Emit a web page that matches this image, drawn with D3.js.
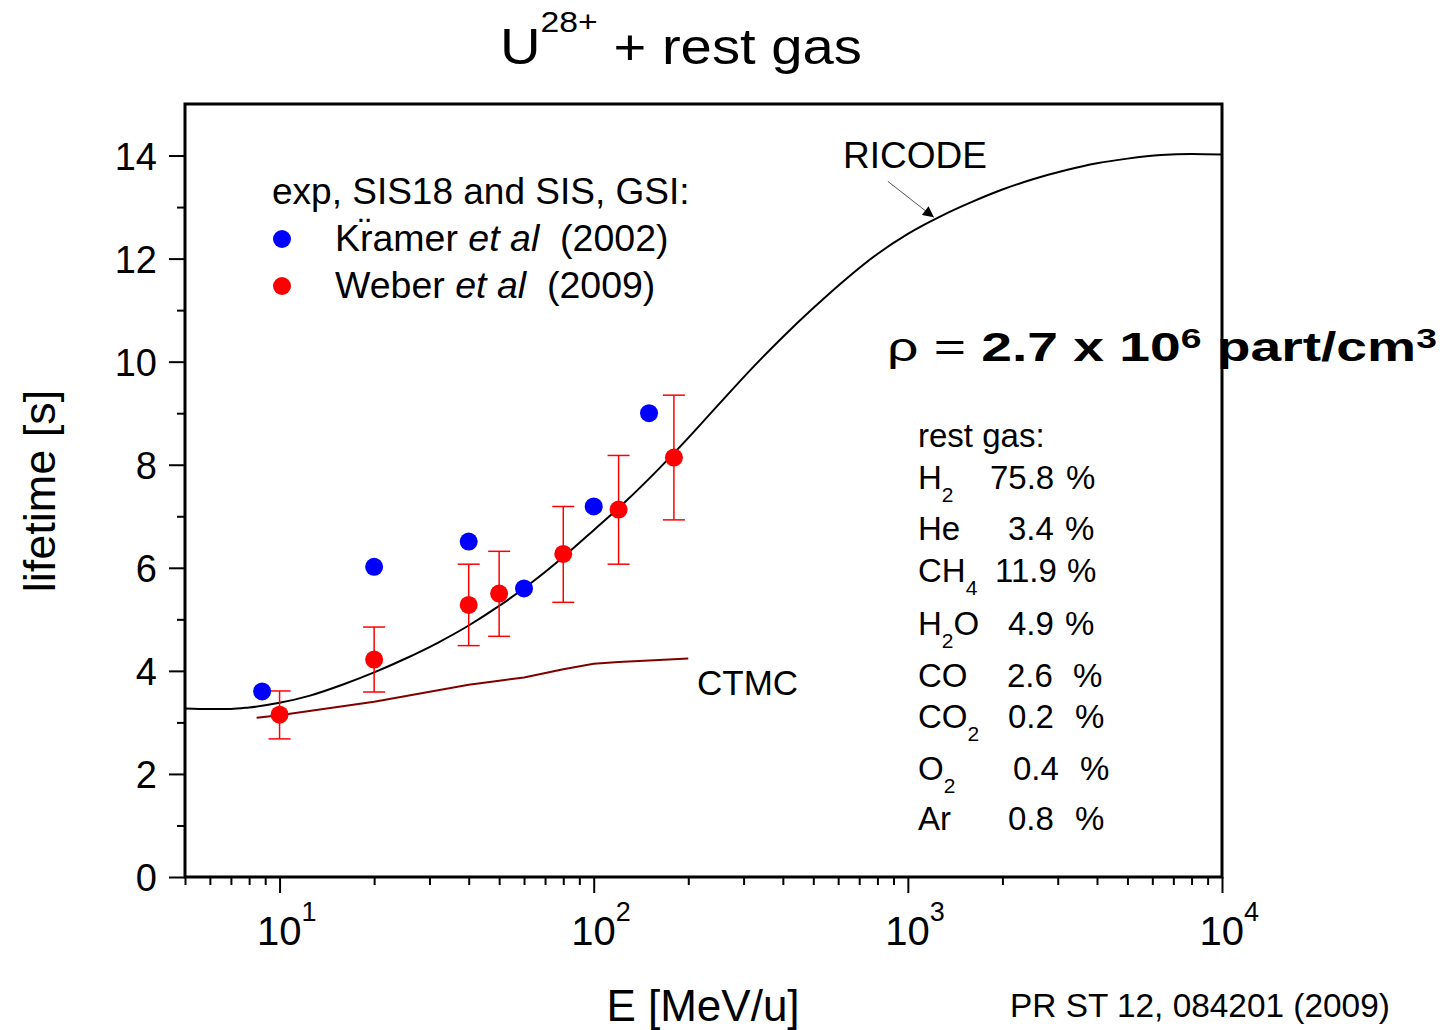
<!DOCTYPE html>
<html><head><meta charset="utf-8">
<script src="https://cdn.jsdelivr.net/npm/d3@7"></script>
<style>
html,body{margin:0;padding:0;background:#fff;}
text{font-family:"Liberation Sans",Arial,sans-serif;}
</style></head>
<body>
<svg id="chart" width="1443" height="1030"></svg>
<script>
// ---------- data ----------
const kramerE = [8.8, 20, 40, 60, 100, 150];
const kramerV = [3.60, 6.02, 6.51, 5.60, 7.19, 9.00];

const weberE   = [10, 20, 40, 50, 80, 120, 180];
const weberV   = [3.15, 4.22, 5.28, 5.50, 6.27, 7.13, 8.14];
const weberLo  = [2.68, 3.59, 4.49, 4.67, 5.33, 6.07, 6.93];
const weberHi  = [3.61, 4.85, 6.07, 6.32, 7.19, 8.18, 9.35];

const ricodeE = [5, 6, 7, 8, 10, 12.5, 16, 20, 25, 32, 40, 50, 63, 80, 100, 126, 160, 200, 250, 320, 400, 500, 640, 800, 1000, 1280, 1600, 2000, 2500, 3200, 4000, 5000, 6400, 8000, 10000];
const ricodeV = [3.27, 3.26, 3.26, 3.29, 3.38, 3.52, 3.74, 3.97, 4.23, 4.55, 4.88, 5.26, 5.70, 6.21, 6.73, 7.28, 7.90, 8.52, 9.17, 9.88, 10.48, 11.04, 11.62, 12.09, 12.48, 12.83, 13.10, 13.34, 13.54, 13.72, 13.85, 13.94, 14.01, 14.03, 14.02];

const ctmcE = [8.45, 10, 20, 40, 50, 60, 80, 100, 120, 150, 200];
const ctmcV = [3.09, 3.14, 3.40, 3.73, 3.81, 3.87, 4.03, 4.14, 4.17, 4.20, 4.24];

const xMajorTicks = [10, 100, 1000, 10000];
const xMajorExp   = ["1", "2", "3", "4"];
const xMinorTicks = [5,6,7,8,9,20,30,40,50,60,70,80,90,200,300,400,500,600,700,800,900,2000,3000,4000,5000,6000,7000,8000,9000];
const yMajorTicks = [0, 2, 4, 6, 8, 10, 12, 14];
const yMinorTicks = [1, 3, 5, 7, 9, 11, 13];

const gasNames  = ["H", "He", "CH", "H", "CO", "CO", "O", "Ar"];
const gasSubs   = ["2", "", "4", "2", "", "2", "2", ""];
const gasTails  = ["", "", "", "O", "", "", "", ""];
const gasValues = ["75.8", "3.4", "11.9", "4.9", "2.6", "0.2", "0.4", "0.8"];

// ---------- layout ----------
const L = 185, R = 1222, T = 104, B = 877;
const svg = d3.select("#chart");
const x = d3.scaleLog().domain([5, 10000]).range([L, R]);
const y = d3.scaleLinear().domain([0, 15]).range([B, T]);

function fitWidth(sel, x0, yb, w){
  const bb = sel.node().getBBox();
  const s = w / bb.width;
  sel.attr("transform", `translate(${x0},${yb}) scale(${s},1)`);
}

// axes
const xAxisMajor = d3.axisBottom(x).tickValues(xMajorTicks).tickSize(16).tickFormat("");
const xAxisMinor = d3.axisBottom(x).tickValues(xMinorTicks).tickSize(8).tickFormat("");
const gxM = svg.append("g").attr("transform", `translate(0,${B})`).call(xAxisMajor);
svg.append("g").attr("transform", `translate(0,${B})`).call(xAxisMinor);
gxM.selectAll(".tick").each(function(d, i){
  const t = d3.select(this).append("text").attr("fill", "#000").attr("y", 945 - B)
    .attr("x", -23).attr("text-anchor", "start").style("font-size", "40px");
  t.append("tspan").text("10");
  t.append("tspan").attr("dy", -24).style("font-size", "27px").text(xMajorExp[i]);
});

const yAxisMajor = d3.axisLeft(y).tickValues(yMajorTicks).tickSize(16).tickFormat(d3.format("d"));
const yAxisMinor = d3.axisLeft(y).tickValues(yMinorTicks).tickSize(8).tickFormat("");
const gyM = svg.append("g").attr("transform", `translate(${L},0)`).call(yAxisMajor);
svg.append("g").attr("transform", `translate(${L},0)`).call(yAxisMinor);
gyM.selectAll(".tick text").attr("x", -28).attr("dy", "0.36em")
  .style("font-size", "38px").style("font-family", '"Liberation Sans",Arial,sans-serif');

svg.selectAll(".domain").remove();
svg.selectAll(".tick line").attr("stroke", "#000").attr("stroke-width", 2);

// frame
svg.append("rect").attr("x", L).attr("y", T).attr("width", R - L).attr("height", B - T)
  .attr("fill", "none").attr("stroke", "#000").attr("stroke-width", 3);

// curves
const line = d3.line().curve(d3.curveMonotoneX);
svg.append("path")
  .attr("d", line(ricodeE.map((e, i) => [x(e), y(ricodeV[i])])))
  .attr("fill", "none").attr("stroke", "#000").attr("stroke-width", 2);
svg.append("path")
  .attr("d", d3.line()(ctmcE.map((e, i) => [x(e), y(ctmcV[i])])))
  .attr("fill", "none").attr("stroke", "#800000").attr("stroke-width", 2);

// error bars
const eb = svg.append("g").attr("stroke", "#ff0000").attr("stroke-width", 1.5);
weberE.forEach((e, i) => {
  const cx = x(e);
  eb.append("line").attr("x1", cx).attr("x2", cx).attr("y1", y(weberLo[i])).attr("y2", y(weberHi[i]));
  eb.append("line").attr("x1", cx - 11).attr("x2", cx + 11).attr("y1", y(weberLo[i])).attr("y2", y(weberLo[i]));
  eb.append("line").attr("x1", cx - 11).attr("x2", cx + 11).attr("y1", y(weberHi[i])).attr("y2", y(weberHi[i]));
});

// points
svg.append("g").selectAll("circle").data(weberE).join("circle")
  .attr("cx", d => x(d)).attr("cy", (d, i) => y(weberV[i])).attr("r", 9).attr("fill", "#ff0000");
svg.append("g").selectAll("circle").data(kramerE).join("circle")
  .attr("cx", d => x(d)).attr("cy", (d, i) => y(kramerV[i])).attr("r", 9).attr("fill", "#0000ff");

// title
const title = svg.append("text").style("font-size", "50px");
title.append("tspan").text("U");
title.append("tspan").attr("dy", -32).style("font-size", "30px").text("28+");
title.append("tspan").attr("dy", 32).style("white-space", "pre").text(" + rest gas");
fitWidth(title, 500, 64, 362);

// axis titles
svg.append("text").attr("x", 703).attr("y", 1021).attr("text-anchor", "middle")
  .style("font-size", "44px").text("E [MeV/u]");
svg.append("text").attr("transform", "translate(55,491) rotate(-90)").attr("text-anchor", "middle")
  .style("font-size", "45px").text("lifetime [s]");

// legend
svg.append("text").attr("x", 272).attr("y", 204).style("font-size", "37px").text("exp, SIS18 and SIS, GSI:");
const leg = [["Kr\u0308amer", "(2002)", "#0000ff", 239, 251], ["Weber", "(2009)", "#ff0000", 286, 298]];
leg.forEach(l => {
  svg.append("circle").attr("cx", 282).attr("cy", l[3]).attr("r", 9).attr("fill", l[2]);
  const t = svg.append("text").attr("x", 335).attr("y", l[4]).style("font-size", "37.5px").style("white-space", "pre");
  t.append("tspan").text(l[0] + " ");
  t.append("tspan").style("font-style", "italic").text("et al");
  t.append("tspan").text("  " + l[1]);
});

// curve labels
svg.append("text").attr("x", 843).attr("y", 168).style("font-size", "37px").text("RICODE");
svg.append("text").attr("x", 697).attr("y", 695).style("font-size", "35px").text("CTMC");

// arrow
svg.append("defs").append("marker").attr("id", "ah").attr("viewBox", "0 0 10 10")
  .attr("refX", 10).attr("refY", 5).attr("markerWidth", 17).attr("markerHeight", 11)
  .attr("markerUnits", "userSpaceOnUse").attr("orient", "auto")
  .append("path").attr("d", "M0,0 L10,5 L0,10 Z").attr("fill", "#000");
const tipX = x(1210), tipY = y(12.80);
svg.append("line").attr("x1", tipX - 46).attr("y1", tipY - 36).attr("x2", tipX).attr("y2", tipY)
  .attr("stroke", "#555").attr("stroke-width", 1).attr("marker-end", "url(#ah)");

// density
const rho = svg.append("text").style("font-size", "40px").style("white-space", "pre");
rho.append("tspan").text("\u03c1 = ");
rho.append("tspan").style("font-weight", "bold").text("2.7 x 10");
rho.append("tspan").style("font-weight", "bold").attr("dy", -13).style("font-size", "27px").text("6");
rho.append("tspan").style("font-weight", "bold").attr("dy", 13).text(" part/cm");
rho.append("tspan").style("font-weight", "bold").attr("dy", -13).style("font-size", "27px").text("3");
fitWidth(rho, 887, 361, 550);

// rest gas table
svg.append("text").attr("x", 918).attr("y", 447).style("font-size", "33px").text("rest gas:");
const rowY   = [489, 540, 582, 635, 687, 728, 780, 830];
const valX   = [990, 1008, 995, 1008, 1007, 1008, 1013, 1008];
const pctX   = [1066, 1065, 1067, 1065, 1073, 1075, 1080, 1075];
gasNames.forEach((n, i) => {
  const t = svg.append("text").attr("x", 918).attr("y", rowY[i]).style("font-size", "33px");
  t.append("tspan").text(n);
  if (gasSubs[i]) t.append("tspan").attr("dy", 13).style("font-size", "21px").text(gasSubs[i]);
  if (gasTails[i]) t.append("tspan").attr("dy", -13).text(gasTails[i]);
  svg.append("text").attr("x", valX[i]).attr("y", rowY[i]).style("font-size", "33px").text(gasValues[i]);
  svg.append("text").attr("x", pctX[i]).attr("y", rowY[i]).style("font-size", "33px").text("%");
});

// citation
const cit = svg.append("text").style("font-size", "34px").text("PR ST 12, 084201 (2009)");
fitWidth(cit, 1010, 1017, 380);
</script>
</body></html>
